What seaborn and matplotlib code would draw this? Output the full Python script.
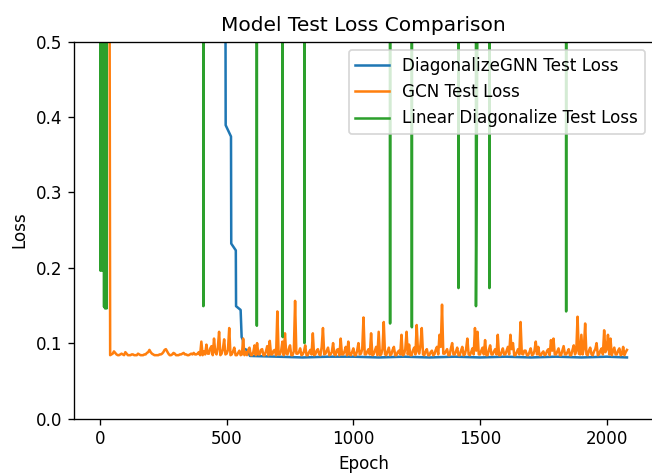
import numpy as np
import pandas as pd
import matplotlib
matplotlib.use('Agg')
import matplotlib.pyplot as plt
import seaborn as sns

# GCN test loss, logged every 5 epochs (0 .. 2080), one row per 100 epochs
gcn_epochs = np.arange(0, 2081, 5)
gcn_loss = [
    2.5, 2.3, 2.1, 1.9, 1.7, 1.5, 1.3, 1.12, 0.084, 0.085, 0.086, 0.089, 0.087, 0.085, 0.084, 0.084, 0.085, 0.086, 0.085, 0.084,
    0.088, 0.086, 0.084, 0.084, 0.084, 0.085, 0.085, 0.084, 0.084, 0.084, 0.086, 0.085, 0.084, 0.084, 0.084, 0.085, 0.085, 0.087, 0.088, 0.091,
    0.088, 0.086, 0.085, 0.084, 0.084, 0.084, 0.084, 0.085, 0.085, 0.086, 0.088, 0.091, 0.092, 0.089, 0.086, 0.084, 0.084, 0.085, 0.087, 0.086,
    0.084, 0.084, 0.084, 0.085, 0.085, 0.086, 0.087, 0.085, 0.085, 0.084, 0.084, 0.085, 0.086, 0.085, 0.087, 0.085, 0.085, 0.086, 0.088, 0.084,
    0.102, 0.084, 0.089, 0.085, 0.098, 0.086, 0.086, 0.093, 0.096, 0.084, 0.106, 0.088, 0.085, 0.094, 0.115, 0.084, 0.086, 0.092, 0.105, 0.085,
    0.086, 0.091, 0.120, 0.084, 0.085, 0.089, 0.094, 0.084, 0.084, 0.087, 0.090, 0.084, 0.085, 0.106, 0.084, 0.088, 0.084, 0.091, 0.094, 0.084,
    0.084, 0.088, 0.097, 0.084, 0.100, 0.085, 0.085, 0.091, 0.092, 0.084, 0.084, 0.089, 0.096, 0.084, 0.103, 0.085, 0.085, 0.090, 0.091, 0.084,
    0.142, 0.085, 0.085, 0.090, 0.102, 0.084, 0.113, 0.086, 0.085, 0.092, 0.097, 0.084, 0.084, 0.089, 0.156, 0.086, 0.086, 0.088, 0.093, 0.084,
    0.085, 0.089, 0.097, 0.084, 0.084, 0.088, 0.091, 0.085, 0.113, 0.084, 0.085, 0.090, 0.092, 0.085, 0.084, 0.095, 0.120, 0.085, 0.086, 0.090,
    0.094, 0.084, 0.085, 0.088, 0.100, 0.085, 0.084, 0.091, 0.092, 0.084, 0.106, 0.085, 0.085, 0.089, 0.095, 0.084, 0.102, 0.085, 0.084, 0.088,
    0.093, 0.084, 0.084, 0.090, 0.100, 0.085, 0.086, 0.092, 0.134, 0.085, 0.085, 0.089, 0.092, 0.085, 0.113, 0.084, 0.085, 0.090, 0.095, 0.084,
    0.115, 0.084, 0.085, 0.092, 0.128, 0.085, 0.084, 0.089, 0.094, 0.084, 0.085, 0.091, 0.095, 0.084, 0.084, 0.088, 0.090, 0.085, 0.111, 0.084,
    0.085, 0.092, 0.115, 0.085, 0.098, 0.084, 0.084, 0.090, 0.094, 0.085, 0.124, 0.090, 0.086, 0.098, 0.120, 0.085, 0.084, 0.089, 0.092, 0.084,
    0.084, 0.088, 0.090, 0.084, 0.085, 0.091, 0.095, 0.085, 0.111, 0.095, 0.151, 0.086, 0.086, 0.089, 0.092, 0.084, 0.084, 0.093, 0.100, 0.085,
    0.085, 0.089, 0.094, 0.084, 0.084, 0.090, 0.095, 0.084, 0.085, 0.092, 0.106, 0.085, 0.084, 0.088, 0.093, 0.085, 0.120, 0.090, 0.115, 0.085,
    0.085, 0.090, 0.094, 0.085, 0.104, 0.084, 0.084, 0.091, 0.097, 0.085, 0.085, 0.089, 0.092, 0.085, 0.111, 0.084, 0.084, 0.088, 0.093, 0.085,
    0.085, 0.090, 0.095, 0.085, 0.111, 0.092, 0.100, 0.084, 0.084, 0.088, 0.092, 0.085, 0.128, 0.086, 0.085, 0.090, 0.090, 0.084, 0.084, 0.088,
    0.093, 0.084, 0.085, 0.090, 0.102, 0.085, 0.095, 0.084, 0.084, 0.087, 0.089, 0.084, 0.085, 0.090, 0.092, 0.084, 0.104, 0.090, 0.106, 0.085,
    0.085, 0.089, 0.093, 0.084, 0.084, 0.090, 0.096, 0.085, 0.085, 0.088, 0.092, 0.084, 0.084, 0.091, 0.097, 0.085, 0.090, 0.135, 0.086, 0.085,
    0.111, 0.085, 0.093, 0.126, 0.085, 0.084, 0.090, 0.094, 0.085, 0.084, 0.089, 0.092, 0.100, 0.084, 0.085, 0.090, 0.093, 0.085, 0.117, 0.088,
    0.092, 0.111, 0.085, 0.106, 0.084, 0.089, 0.094, 0.085, 0.085, 0.090, 0.093, 0.084, 0.085, 0.095, 0.084, 0.088, 0.091,
]

# DiagonalizeGNN test loss (above 0.5 until ~epoch 495, then stepwise drop)
gnn_epochs = [0, 100, 200, 300, 400, 495, 496, 517, 518, 536, 537, 555, 559,
              564, 566, 579, 592, 700, 800, 900, 1000, 1100, 1200, 1300,
              1400, 1500, 1600, 1700, 1800, 1900, 2000, 2080]
gnn_loss = [2.4, 1.3, 0.9, 0.75, 0.65, 0.58, 0.389, 0.374, 0.232, 0.223,
            0.149, 0.144, 0.108, 0.104, 0.093, 0.091, 0.083, 0.082, 0.081,
            0.082, 0.082, 0.081, 0.082, 0.081, 0.082, 0.081, 0.082, 0.081,
            0.082, 0.081, 0.082, 0.081]

# Linear Diagonalize test loss: mostly off the chart, with a few dips
lin_epochs = [0, 2, 3, 4, 5, 6, 7, 8, 9, 10, 11, 12, 13, 14, 15, 16, 17, 18,
              19, 20, 21, 22, 23, 24, 25, 26, 27,
              407, 408, 409, 618, 619, 620, 720, 721, 722, 806, 807, 808,
              1144, 1145, 1146, 1230, 1231, 1232, 1414, 1415, 1416,
              1483, 1484, 1490, 1491, 1536, 1537, 1538, 1839, 1840, 1841, 2080]
lin_loss = [3.0, 0.196, 0.9, 0.20, 0.8, 0.197, 0.9, 0.21, 0.85, 0.196, 0.7,
            0.205, 0.9, 0.196, 0.8, 0.148, 0.9, 0.16, 0.8, 0.146, 0.7, 0.15,
            0.9, 0.155, 0.9, 0.146, 3.0,
            3.0, 0.149, 3.0, 3.0, 0.123, 3.0, 3.0, 0.108, 3.0, 3.0, 0.100, 3.0,
            3.0, 0.126, 3.0, 3.0, 0.121, 3.0, 3.0, 0.173, 3.0,
            3.0, 0.149, 0.55, 3.0, 3.0, 0.173, 3.0, 3.0, 0.142, 3.0, 3.0]

fig = plt.figure(figsize=(652 / 121, 473 / 121), dpi=121)
ax = fig.add_axes([0.113, 0.1152, 0.889, 0.797])

sns.lineplot(x=gnn_epochs, y=gnn_loss, ax=ax, color='#1f77b4',
             label='DiagonalizeGNN Test Loss')
sns.lineplot(x=gcn_epochs, y=gcn_loss, ax=ax, color='#ff7f0e',
             label='GCN Test Loss')
sns.lineplot(x=lin_epochs, y=lin_loss, ax=ax, color='#2ca02c',
             label='Linear Diagonalize Test Loss')

ax.set_ylim(0, 0.5)
ax.set_xlim(-104, 2184)
ax.set_xticks([0, 500, 1000, 1500, 2000])
for side in ['top', 'right', 'left', 'bottom']:
    ax.spines[side].set_visible(True)
    ax.spines[side].set_color('black')
ax.set_title('Model Test Loss Comparison', fontsize=12)
ax.set_xlabel('Epoch', fontsize=10)
ax.set_ylabel('Loss', fontsize=10)
ax.tick_params(labelsize=10)
ax.legend(loc='upper right', fontsize=10)

plt.savefig('out.png', dpi=121)
plt.close()
